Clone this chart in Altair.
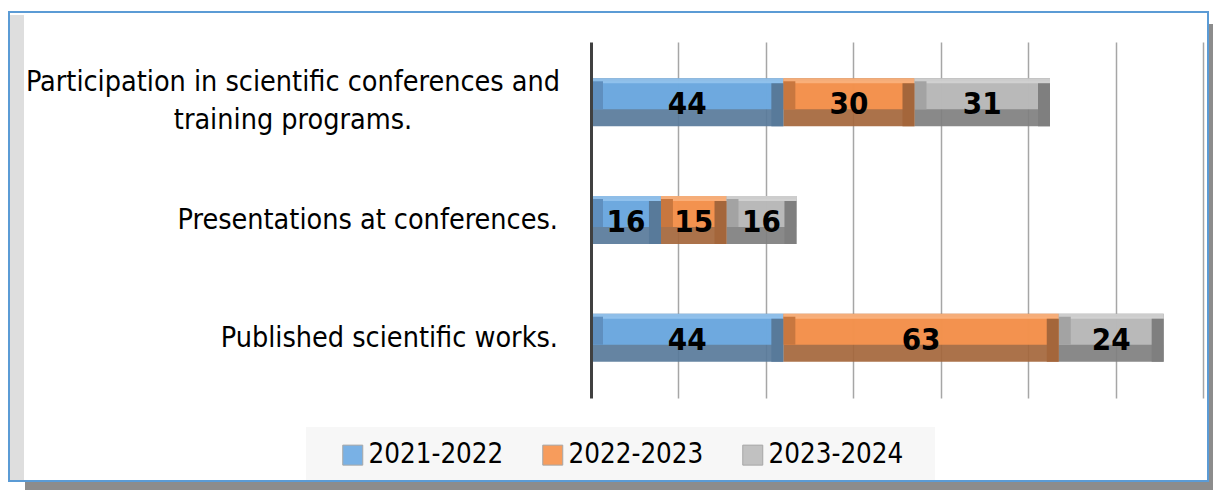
import altair as alt
import pandas as pd

FONT = "DejaVu Sans Condensed, DejaVu Sans, sans-serif"

categories = [
    "Participation in scientific conferences and|training programs.",
    "Presentations at conferences.",
    "Published scientific works.",
]
years = ["2021-2022", "2022-2023", "2023-2024"]
v_2021_2022 = [44, 16, 44]
v_2022_2023 = [30, 15, 63]
v_2023_2024 = [31, 16, 24]

face_colors = ["#6FACE4", "#F8954F", "#BDBDBD"]
dark_colors = ["#587A9A", "#A4663B", "#7F7F7F"]
light_colors = ["#93C3EE", "#FBB27D", "#D2D2D2"]
mid_colors = ["#5F8FBF", "#C8773F", "#A3A3A3"]

rows = []
series = [v_2021_2022, v_2022_2023, v_2023_2024]
for ci, cat in enumerate(categories):
    start = 0
    for yi, yr in enumerate(years):
        v = series[yi][ci]
        rows.append(dict(cat=cat, year=yr, value=v, start=start, end=start + v,
                         mid=(start + start + v) / 2,
                         face=face_colors[yi], dark=dark_colors[yi],
                         light=light_colors[yi], midc=mid_colors[yi]))
        start += v
df = pd.DataFrame(rows)
lab_df = pd.DataFrame({"cat": categories})
one = pd.DataFrame({"a": [0]})

yenc = alt.Y("cat:N", sort=categories, title=None,
             scale=alt.Scale(paddingInner=0.596, paddingOuter=0.31),
             axis=alt.Axis(labels=False, ticks=False, domain=True, domainColor="#404040",
                           domainWidth=3, grid=False, zindex=1))
xenc = alt.X("start:Q", title=None, scale=alt.Scale(domain=[0, 140], nice=False, zero=True),
             axis=alt.Axis(values=[20, 40, 60, 80, 100, 120, 140], labels=False, ticks=False,
                           domain=False, grid=True, gridColor="#A6A6A6", gridWidth=1.5))
ysimple = alt.Y("cat:N", sort=categories, title=None)

base = alt.Chart(df)

dark = base.mark_bar(size=48, opacity=0.92).encode(
    y=yenc, x=xenc, x2="end:Q", color=alt.Color("dark:N", scale=None))
face = base.mark_bar(size=28, yOffset=-7, opacity=0.92).encode(
    y=ysimple, x="start:Q", x2="end:Q",
    color=alt.Color("year:N", scale=alt.Scale(domain=years, range=face_colors),
                    legend=alt.Legend(orient="none", legendX=-252, legendY=399,
                                      direction="horizontal", title=None,
                                      symbolType="square", symbolSize=400,
                                      symbolStrokeColor="#A0A0A0",
                                      symbolStrokeWidth=1, symbolOpacity=1,
                                      labelFontSize=27.5, labelFont=FONT, labelColor="#000",
                                      labelOffset=2, columnPadding=35, padding=0)))
top = base.mark_bar(size=5, yOffset=-21.5, opacity=0.92).encode(
    y=ysimple, x="start:Q", x2="end:Q", color=alt.Color("light:N", scale=None))
left = base.mark_bar(size=28, yOffset=-7, xOffset=0, x2Offset=12).encode(
    y=ysimple, x="start:Q", x2="start:Q", color=alt.Color("midc:N", scale=None))
right = base.mark_bar(size=43, yOffset=2.5, xOffset=-12).encode(
    y=ysimple, x="end:Q", x2="end:Q", color=alt.Color("dark:N", scale=None))

values_txt = base.mark_text(fontSize=31, fontWeight="bold", font=FONT, color="#000",
                            baseline="middle", dy=3).encode(
    y=ysimple, x="mid:Q", text="value:Q")

single_lab = alt.Chart(lab_df).transform_filter("indexof(datum.cat, '|') < 0").mark_text(
    fontSize=28.5, font=FONT, color="#000", align="right", baseline="middle", dx=-33).encode(
    y=ysimple, x=alt.value(0), text="cat:N")
multi_lab = alt.Chart(lab_df).transform_filter("indexof(datum.cat, '|') >= 0").mark_text(
    fontSize=28.5, font=FONT, color="#000", align="center", baseline="middle", dx=-298,
    dy=-20, lineBreak="|", lineHeight=38).encode(
    y=ysimple, x=alt.value(0), text="cat:N")

# decorative frame and legend box
frame = alt.Chart(one).mark_rect(fill=None, stroke="#5B9BD5", strokeWidth=2).encode(
    x=alt.value(-582), x2=alt.value(617), y=alt.value(-30), y2=alt.value(439))
shadow_r = alt.Chart(one).mark_rect(fill="#8C8C8C").encode(
    x=alt.value(618), x2=alt.value(622), y=alt.value(-18), y2=alt.value(448))
shadow_b = alt.Chart(one).mark_rect(fill="#8C8C8C").encode(
    x=alt.value(-566), x2=alt.value(622), y=alt.value(440), y2=alt.value(448))
bevel = alt.Chart(one).mark_rect(fill="#DEDEDE").encode(
    x=alt.value(-581), x2=alt.value(-567), y=alt.value(-27), y2=alt.value(438))
legend_box = alt.Chart(one).mark_rect(fill="#F7F7F7").encode(
    x=alt.value(-285), x2=alt.value(344), y=alt.value(385), y2=alt.value(439))

chart = alt.layer(
    shadow_r, shadow_b, bevel, legend_box, frame,
    dark, face, top, left, right, values_txt, single_lab, multi_lab
).properties(
    width=612, height=356,
    padding={"left": 0, "top": 3, "right": 0, "bottom": 0},
    background="white",
).configure_view(stroke=None)

chart.save("out.html", embed_options={"renderer": "svg", "actions": False})
